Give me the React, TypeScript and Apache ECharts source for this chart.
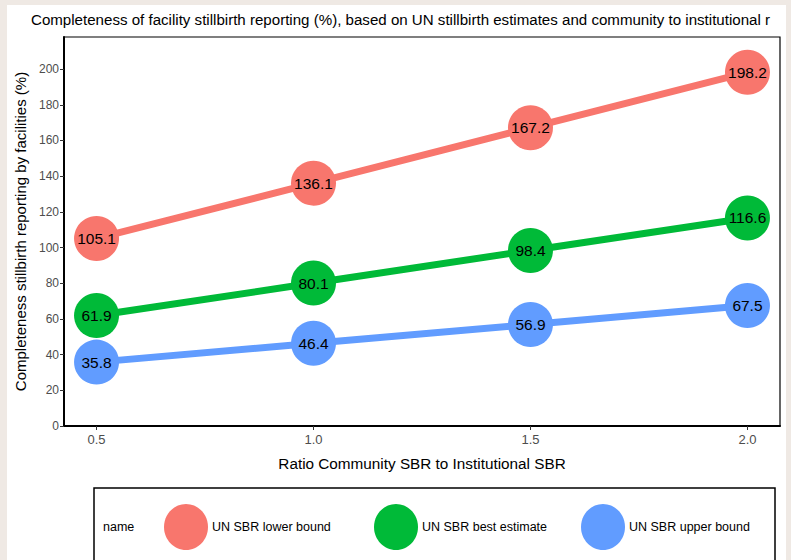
import React, { useEffect, useRef } from "react";
import * as echarts from "echarts";

const ratios = [0.5, 1.0, 1.5, 2.0];
const lowerBound = [105.1, 136.1, 167.2, 198.2];
const bestEstimate = [61.9, 80.1, 98.4, 116.6];
const upperBound = [35.8, 46.4, 56.9, 67.5];
const seriesNames = ["UN SBR lower bound", "UN SBR best estimate", "UN SBR upper bound"];
const seriesColors = ["#F8766D", "#00BA38", "#619CFF"];
const yTicks = [0, 20, 40, 60, 80, 100, 120, 140, 160, 180, 200];
const xTicks = [0.5, 1.0, 1.5, 2.0];
const titleText =
  "Completeness of facility stillbirth reporting (%), based on UN stillbirth estimates and community to institutional r";

export default function App() {
  const ref = useRef<HTMLDivElement>(null);
  useEffect(() => {
    if (!ref.current) return;
    const chart = echarts.init(ref.current, null, { renderer: "svg" });
    const font = "Liberation Sans, Arial, sans-serif";
    const values = [lowerBound, bestEstimate, upperBound];
    const series = values.map((vals, i) => ({
      name: seriesNames[i],
      type: "line",
      data: vals.map((v, j) => [ratios[j], v]),
      symbol: "circle",
      symbolSize: 45,
      lineStyle: { width: 7, color: seriesColors[i] },
      itemStyle: { color: seriesColors[i] },
      label: {
        show: true,
        position: "inside",
        color: "#000",
        fontSize: 15.5,
        fontFamily: font,
        formatter: (p: any) => p.value[1].toFixed(1),
      },
      z: 2,
    }));
    const legendCenters = [186, 396, 603];
    const legendGraphics: any[] = [
      {
        type: "rect",
        shape: { x: 94, y: 488, width: 681, height: 90 },
        style: { fill: "#fff", stroke: "#000", lineWidth: 1.5 },
        z: 1,
      },
      {
        type: "text",
        x: 103,
        y: 527,
        style: { text: "name", fill: "#000", fontSize: 12.5, fontFamily: font, verticalAlign: "middle" },
        z: 2,
      },
    ];
    seriesNames.forEach((n, i) => {
      legendGraphics.push({
        type: "ellipse",
        shape: { cx: legendCenters[i], cy: 527, rx: 22, ry: 23 },
        style: { fill: seriesColors[i] },
        z: 2,
      });
      legendGraphics.push({
        type: "text",
        x: legendCenters[i] + 26,
        y: 527,
        style: { text: n, fill: "#000", fontSize: 12.5, fontFamily: font, verticalAlign: "middle" },
        z: 2,
      });
    });
    chart.setOption({
      animation: false,
      backgroundColor: "#efe9e4",
      graphic: [
        {
          type: "rect",
          shape: { x: 7, y: 5, width: 779, height: 560 },
          style: { fill: "#ffffff" },
          z: -10,
          silent: true,
        },
        {
          type: "text",
          x: 31,
          y: 19,
          style: { text: titleText, fill: "#000", fontSize: 15.1, fontFamily: font, verticalAlign: "middle" },
        },
        ...legendGraphics,
      ],
      grid: {
        left: 64,
        right: 11,
        top: 37,
        bottom: 134,
        show: true,
        borderColor: "#000",
        borderWidth: 1.2,
        backgroundColor: "#fff",
      },
      xAxis: {
        type: "value",
        min: 0.425,
        max: 2.075,
        name: "Ratio Community SBR to Institutional SBR",
        nameLocation: "middle",
        nameGap: 30,
        nameTextStyle: { color: "#000", fontSize: 15.3, fontFamily: font },
        axisLine: { show: true, lineStyle: { color: "#000", width: 2 } },
        axisTick: { show: true, length: 4, lineStyle: { color: "#333" }, customValues: xTicks },
        axisLabel: {
          color: "#4d4d4d",
          fontSize: 13,
          fontFamily: font,
          margin: 7,
          customValues: xTicks,
          formatter: (v: number) => v.toFixed(1),
        },
        splitLine: { show: false },
      },
      yAxis: {
        type: "value",
        min: 0,
        max: 218,
        name: "Completeness stillbirth reporting by facilities (%)",
        nameLocation: "middle",
        nameGap: 36,
        nameTextStyle: { color: "#000", fontSize: 15, fontFamily: font },
        axisLine: { show: true, lineStyle: { color: "#000", width: 2 } },
        axisTick: { show: true, length: 4, lineStyle: { color: "#333" }, customValues: yTicks },
        axisLabel: { color: "#4d4d4d", fontSize: 12, fontFamily: font, margin: 5, customValues: yTicks },
        splitLine: { show: false },
      },
      series,
    });
    return () => chart.dispose();
  }, []);
  return (
    <div
      ref={ref}
      style={{ position: "fixed", left: 0, top: 0, width: 791, height: 560 }}
    />
  );
}
